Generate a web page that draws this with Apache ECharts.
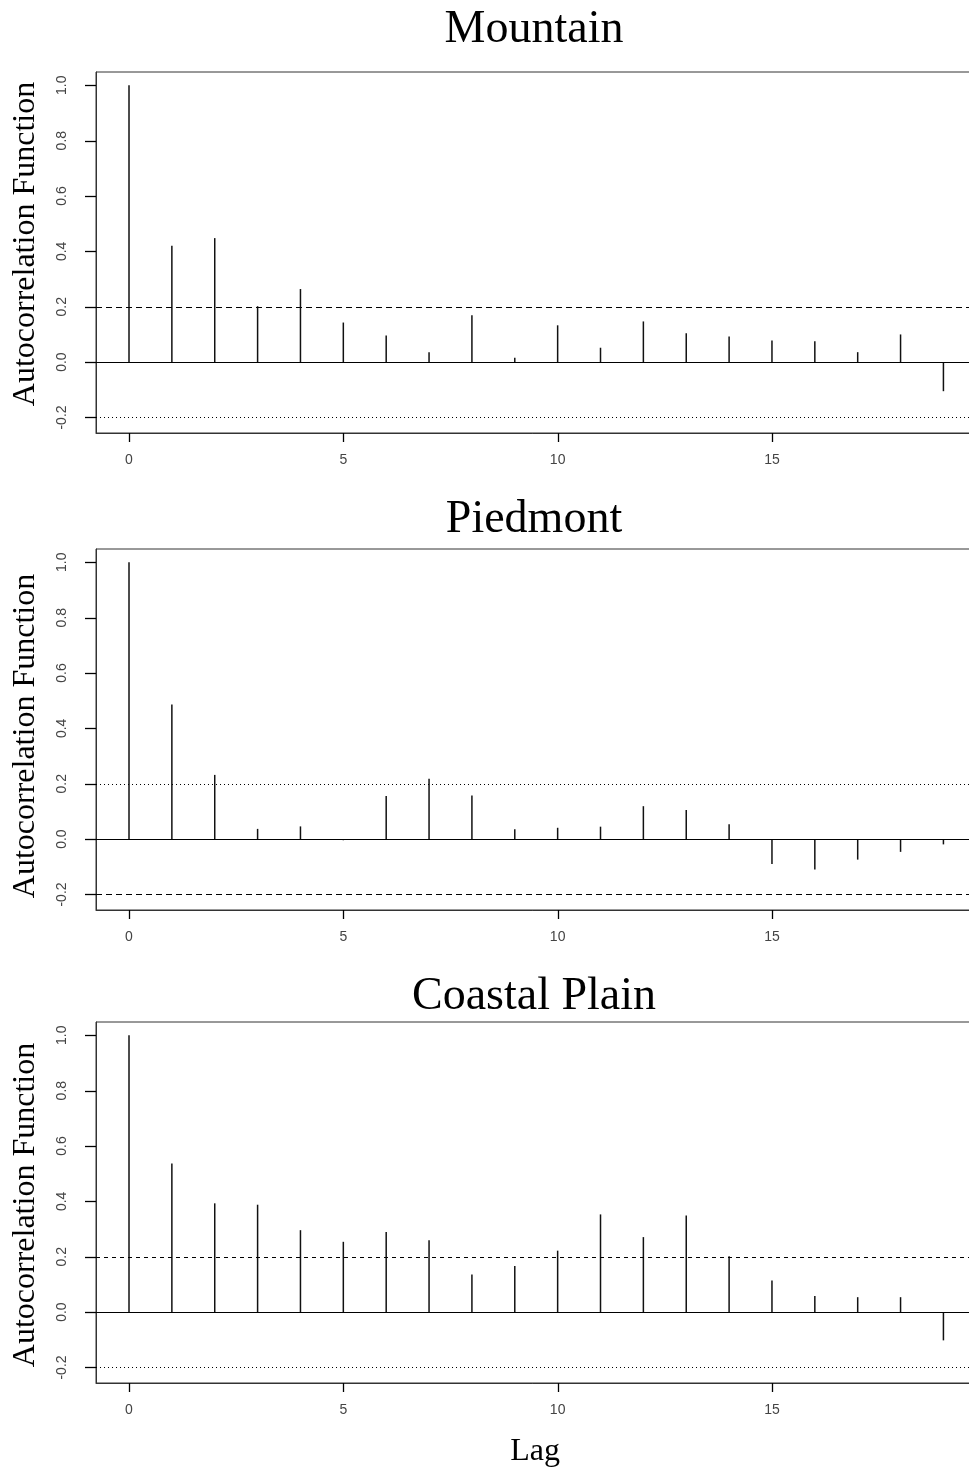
<!DOCTYPE html>
<html>
<head>
<meta charset="utf-8">
<script src="https://cdn.jsdelivr.net/npm/echarts@6/dist/echarts.min.js"></script>
<style>
html,body{margin:0;padding:0;background:#fff;}
#chart{width:969px;height:1469px;}
</style>
</head>
<body>
<div id="chart"></div>
<script>
// ---- data ----
const lags = [0,1,2,3,4,5,6,7,8,9,10,11,12,13,14,15,16,17,18,19];
const mountainACF = [1.0, 0.420, 0.448, 0.202, 0.264, 0.143, 0.096, 0.036, 0.169, 0.016, 0.133, 0.052, 0.147, 0.104, 0.093, 0.078, 0.075, 0.036, 0.100, -0.105];
const piedmontACF = [1.0, 0.486, 0.232, 0.037, 0.046, -0.004, 0.156, 0.218, 0.158, 0.036, 0.041, 0.045, 0.119, 0.105, 0.054, -0.090, -0.110, -0.074, -0.046, -0.019];
const coastalACF = [1.0, 0.537, 0.393, 0.388, 0.296, 0.254, 0.289, 0.260, 0.136, 0.167, 0.222, 0.353, 0.271, 0.349, 0.202, 0.114, 0.058, 0.054, 0.054, -0.102];
const panelTitles = ["Mountain", "Piedmont", "Coastal Plain"];
const confLimit = 0.202;
const xTickValues = [0, 5, 10, 15];
const yTickValues = [-0.2, 0.0, 0.2, 0.4, 0.6, 0.8, 1.0];
const yTitle = "Autocorrelation Function";
const xTitle = "Lag";

// ---- layout ----
const X_MIN = -0.77, X_MAX = 19.76, Y_MIN = -0.256, Y_MAX = 1.048;
const panels = [
  {vals: mountainACF, top: 72, titleY: 29.5, yTitleY: 244, upper: [6,4], lower: [1,3]},
  {vals: piedmontACF, top: 549, titleY: 519.5, yTitleY: 736, upper: [1,3], lower: [6,4]},
  {vals: coastalACF, top: 1022, titleY: 997, yTitleY: 1205, upper: [4,4], lower: [1,3]}
];
const gridH = 361;
const serif = "'Liberation Serif','Times New Roman',serif";
const sans = "'Liberation Sans',Arial,sans-serif";
const tickColor = '#000';

const chart = echarts.init(document.getElementById('chart'), null, {renderer: 'canvas'});

const grid = [], xAxis = [], yAxis = [], series = [], graphic = [];
panels.forEach((p, i) => {
  grid.push({left: 96, top: p.top, width: 880, height: gridH, show: true,
    borderColor: '#333', borderWidth: 1,
    containLabel: false, outerBoundsMode: 'none'});
  xAxis.push({type: 'value', gridIndex: i, min: X_MIN, max: X_MAX,
    axisLine: {show: true, onZero: false, lineStyle: {color: '#333', width: 1}},
    splitLine: {show: false},
    axisTick: {show: false},
    axisLabel: {show: true, customValues: xTickValues, margin: 20, fontFamily: sans, fontSize: 14, color: '#444',
      formatter: v => String(v)}
  });
  yAxis.push({type: 'value', gridIndex: i, min: Y_MIN, max: Y_MAX,
    axisLine: {show: true, onZero: false, lineStyle: {color: '#333', width: 1}},
    splitLine: {show: false},
    axisTick: {show: false},
    axisLabel: {show: true, customValues: yTickValues, rotate: 90, margin: 27, fontFamily: sans, fontSize: 14, color: '#444',
      formatter: v => Number(v).toFixed(1)}
  });
  series.push({
    type: 'bar', xAxisIndex: i, yAxisIndex: i,
    data: lags.map((l, k) => [l, p.vals[k]]),
    barWidth: 1.5,
    itemStyle: {color: '#111'},
    silent: true, animation: false,
    markLine: {
      silent: true, symbol: 'none', animation: false,
      label: {show: false},
      data: [
        {yAxis: 0, lineStyle: {type: 'solid', color: '#000', width: 1}},
        {yAxis: confLimit, lineStyle: {type: p.upper, color: '#000', width: 1}},
        {yAxis: -confLimit, lineStyle: {type: p.lower, color: '#000', width: 1}}
      ]
    }
  });
  // outward tick marks on the bottom axis, positioned through the axis scale
  series.push({
    type: 'custom', xAxisIndex: i, yAxisIndex: i, clip: false, silent: true, animation: false, z: 5,
    data: xTickValues.map(v => [v, Y_MIN]),
    renderItem: (params, api) => {
      const pt = api.coord([api.value(0), api.value(1)]);
      const x = Math.round(pt[0]) + 0.5;
      return {type: 'line', shape: {x1: x, y1: pt[1], x2: x, y2: pt[1] + 9},
        style: {stroke: tickColor, lineWidth: 1.3}};
    }
  });
  // outward tick marks on the left axis
  series.push({
    type: 'custom', xAxisIndex: i, yAxisIndex: i, clip: false, silent: true, animation: false, z: 5,
    data: yTickValues.map(v => [X_MIN, v]),
    renderItem: (params, api) => {
      const pt = api.coord([api.value(0), api.value(1)]);
      const y = Math.round(pt[1]) + 0.5;
      return {type: 'line', shape: {x1: pt[0] - 11, y1: y, x2: pt[0], y2: y},
        style: {stroke: tickColor, lineWidth: 1.3}};
    }
  });
  graphic.push({type: 'text', x: 534, y: p.titleY, z: 10,
    style: {text: panelTitles[i], font: '46px ' + serif, fill: '#000', textAlign: 'center', textVerticalAlign: 'middle'}});
  graphic.push({type: 'text', x: 26, y: p.yTitleY, rotation: Math.PI / 2, z: 10,
    style: {text: yTitle, font: '32px ' + serif, fill: '#000', textAlign: 'center', textVerticalAlign: 'middle'}});
});
// the bottom panel overlaps the lower edge of its title
graphic.push({type: 'rect', shape: {x: 300, y: 1010, width: 480, height: 11}, z: 100, style: {fill: '#fff'}});
graphic.push({type: 'text', x: 535, y: 1451.5, z: 10,
  style: {text: xTitle, font: '32px ' + serif, fill: '#000', textAlign: 'center', textVerticalAlign: 'middle'}});

chart.setOption({
  animation: false,
  backgroundColor: '#fff',
  grid, xAxis, yAxis, series, graphic
});
</script>
</body>
</html>
